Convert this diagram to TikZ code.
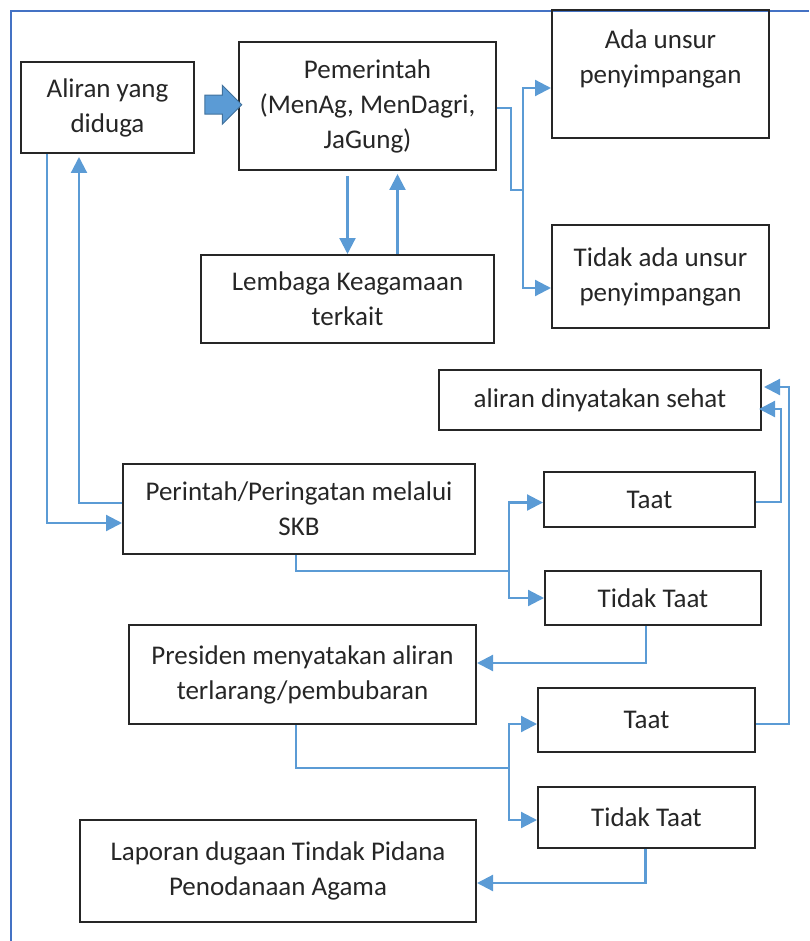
\documentclass[tikz,border=0pt]{standalone}
\usepackage{fontspec}
\setmainfont{Carlito}
\usetikzlibrary{calc,arrows.meta,shapes.arrows}

\definecolor{garis}{HTML}{5B9BD5}
\definecolor{bingkai}{HTML}{4472C4}
\definecolor{panahtepi}{HTML}{41719C}
\definecolor{tinta}{HTML}{262626}

\tikzset{
  kotak/.style={draw=tinta,line width=2pt,text=tinta,align=center,inner sep=0pt},
  link/.style={draw=garis,line width=1.4pt},
  arr/.style={draw=garis,line width=2.2pt,-{Triangle[length=16pt,width=16pt]}},
  blok/.style={single arrow,fill=garis,draw=panahtepi,line width=1pt,inner sep=9pt,
    minimum height=37pt,single arrow head extend=10pt,
    single arrow head indent=0pt}
}

\begin{document}
\begin{tikzpicture}[x=1pt,y=-1pt]
  \fontsize{27}{35}\selectfont
  \useasboundingbox (0,0) rectangle (809,941);

  %% frame
  \draw[bingkai,line width=2.5pt] (11,941) -- (11,11) -- (809,11);

  %% top part
  \node (aliran) at (107.5,107.5) [kotak,minimum width=173pt,minimum height=91pt] {Aliran yang\\diduga};
  \node (pemerintah) at (367.5,106) [kotak,minimum width=257pt,minimum height=128pt] {Pemerintah\\(MenAg, MenDagri,\\JaGung)};
  \node (ada) at (660.5,74) [kotak,minimum width=217pt,minimum height=128pt] {Ada unsur\\penyimpangan\\\mbox{}};
  \node (tidakada) at (660.5,276.5) [kotak,minimum width=217pt,minimum height=103pt] {Tidak ada unsur\\penyimpangan};
  \node (lembaga) at (347.5,299) [kotak,minimum width=293pt,minimum height=88pt] {Lembaga Keagamaan\\terkait};
  \node (panah) at ($(aliran.east)!.5!(pemerintah.west)+(2,-2)$) [blok] {};

  %% middle part
  \node (sehat) at (600,400) [kotak,minimum width=322pt,minimum height=60pt] {aliran dinyatakan sehat};
  \node (perintah) at (299,509) [kotak,minimum width=352pt,minimum height=90pt] {Perintah/Peringatan melalui\\SKB};
  \node (taat1) at (649.5,499.5) [kotak,minimum width=211pt,minimum height=55pt] {Taat};
  \node (tidaktaat1) at (653,598) [kotak,minimum width=216pt,minimum height=54pt] {Tidak Taat};

  %% bottom part
  \node (presiden) at (302.5,674.5) [kotak,minimum width=347pt,minimum height=99pt] {Presiden menyatakan aliran\\terlarang/pembubaran};
  \node (taat2) at (646.5,720) [kotak,minimum width=217pt,minimum height=64pt] {Taat};
  \node (tidaktaat2) at (646.5,817.5) [kotak,minimum width=217pt,minimum height=61pt] {Tidak Taat};
  \node (laporan) at (278,871) [kotak,minimum width=396pt,minimum height=102pt] {Laporan dugaan Tindak Pidana\\Penodanaan Agama};

  %% branch points
  \coordinate (cabang1) at (523,190);
  \coordinate (cabang2) at (509,571);
  \coordinate (cabang3) at (509,768);

  %% arrows
  \draw[arr] ($(aliran.south west)+(27,0)$) |- ($(perintah.west)+(0,14)$);
  \draw[arr] ($(perintah.west)+(0,-6)$) -| ($(aliran.south west)+(59,3)$);
  \draw[arr] ($(pemerintah.south)+(-20,5)$) -- (lembaga.north);
  \draw[arr] ($(lembaga.north)+(50,0)$) -- ($(pemerintah.south)+(30,3)$);

  \draw[link] ($(pemerintah.east)+(0,2)$) -- ++(14,0) |- (cabang1);
  \draw[arr] (cabang1) |- ($(ada.west)+(0,14)$);
  \draw[arr] (cabang1) |- ($(tidakada.west)+(0,11.5)$);

  \draw[link] ($(perintah.south)+(-3,0)$) |- (cabang2);
  \draw[arr] (cabang2) |- ($(taat1.west)+(0,3)$);
  \draw[arr] (cabang2) |- (tidaktaat1.west);

  \draw[arr] ($(taat1.east)+(0,2.5)$) -- ++(25,0) |- ($(sehat.east)+(-3,9)$);
  \draw[arr] ($(taat2.east)+(0,4)$) -- ++(33,0) |- ($(sehat.east)+(2,-13)$);

  \draw[arr] ($(tidaktaat1.south)+(-7,0)$) |- ($(presiden.east)+(0,-11.5)$);

  \draw[link] ($(presiden.south)+(-6.5,0)$) |- (cabang3);
  \draw[arr] (cabang3) |- ($(taat2.west)+(0,4)$);
  \draw[arr] (cabang3) |- ($(tidaktaat2.west)+(0,2.5)$);

  \draw[arr] ($(tidaktaat2.south)+(-1,0)$) |- ($(laporan.east)+(0,12)$);
\end{tikzpicture}
\end{document}
